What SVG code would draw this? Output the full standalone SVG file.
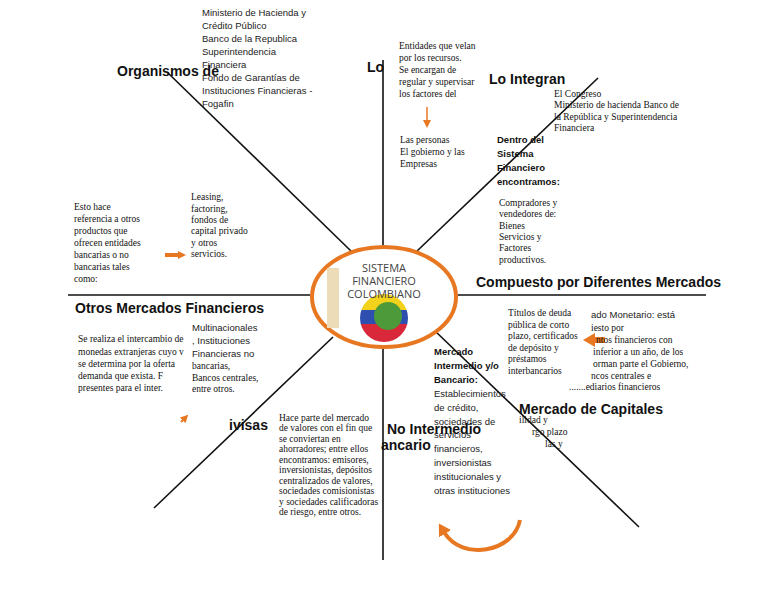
<svg xmlns="http://www.w3.org/2000/svg" width="768" height="594" viewBox="0 0 768 594">
<style>
.h{font-family:"Liberation Sans",Arial,sans-serif;font-weight:bold;font-size:14px;fill:#111}
.s{font-family:"Liberation Sans",Arial,sans-serif;font-size:9.5px;fill:#222}
.sb{font-family:"Liberation Sans",Arial,sans-serif;font-size:9.5px;font-weight:bold;fill:#111}
.r{font-family:"Liberation Serif","Times New Roman",serif;font-size:9.5px;fill:#111}
.ln{stroke:#111;stroke-width:1.6;fill:none}
</style>
<defs>
<clipPath id="g"><circle cx="384" cy="318" r="24"/></clipPath>
<marker id="ah" markerUnits="userSpaceOnUse" markerWidth="8" markerHeight="8" refX="2" refY="4" orient="auto"><path d="M0,0L8,4L0,8z" fill="#e87722"/></marker>
<marker id="ahb" markerUnits="userSpaceOnUse" markerWidth="12" markerHeight="14" refX="2" refY="7" orient="auto"><path d="M0,0L12,7L0,14z" fill="#e87722"/></marker>
</defs>
<rect width="768" height="594" fill="#fff"/>
<g id="connectors">
<line class="ln" x1="167" y1="72" x2="352" y2="252"/>
<line class="ln" x1="383" y1="60" x2="383" y2="247"/>
<line class="ln" x1="598" y1="78" x2="416" y2="252"/>
<line class="ln" x1="458" y1="295" x2="706" y2="295"/>
<line class="ln" x1="68" y1="295" x2="310" y2="295"/>
<line class="ln" x1="333" y1="337" x2="154" y2="508"/>
<line class="ln" x1="383" y1="348" x2="383" y2="560"/>
<line class="ln" x1="434" y1="330" x2="639" y2="527"/>
<line x1="427" y1="107" x2="427" y2="122" stroke="#e87722" stroke-width="1.5" marker-end="url(#ah)"/>
<path d="M165 255H180" stroke="#e87722" stroke-width="4" marker-end="url(#ah)"/>
<path d="M605 340H593" stroke="#e87722" stroke-width="6" marker-end="url(#ahb)"/>
<path d="M181 422L184 419" stroke="#e87722" stroke-width="2" marker-end="url(#ah)"/>
<path d="M520 520C514 552 462 562 444 532" stroke="#e87722" stroke-width="4" fill="none" marker-end="url(#ahb)"/>
</g>
<g id="center">
<ellipse cx="384" cy="297" rx="72" ry="50" fill="#fff" stroke="#e87722" stroke-width="4"/>
<rect x="327" y="268" width="12" height="60" fill="#ecdcb8"/>
<g clip-path="url(#g)">
<rect x="358" y="292" width="52" height="18" fill="#f2d21a"/>
<rect x="358" y="310" width="52" height="14" fill="#2e4fb0"/>
<rect x="358" y="324" width="52" height="20" fill="#d8283a"/>
<circle cx="388" cy="316" r="14" fill="#4d9a3a"/>
</g>
<text x="384" y="272" text-anchor="middle" style="font-family:'Open Sans',sans-serif;font-size:11px;fill:#444">SISTEMA</text>
<text x="384" y="285" text-anchor="middle" style="font-family:'Open Sans',sans-serif;font-size:11px;fill:#444">FINANCIERO</text>
<text x="384" y="298" text-anchor="middle" style="font-family:'Open Sans',sans-serif;font-size:11px;fill:#444">COLOMBIANO</text>
</g>
<g id="organismos">
<text class="h" x="117" y="76">Organismos de</text>
<text class="s" x="202" y="16">Ministerio de Hacienda y</text>
<text class="s" x="202" y="29">Crédito Público</text>
<text class="s" x="202" y="42">Banco de la Republica</text>
<text class="s" x="202" y="55">Superintendencia</text>
<text class="s" x="202" y="68">Financiera</text>
<text class="s" x="202" y="81">Fondo de Garantías de</text>
<text class="s" x="202" y="94">Instituciones Financieras -</text>
<text class="s" x="202" y="107">Fogafin</text>
</g>
<g id="lo">
<text class="h" x="367" y="72">Lo</text>
<text class="r" x="399" y="49">Entidades que velan</text>
<text class="r" x="399" y="61">por los recursos.</text>
<text class="r" x="399" y="73">Se encargan de</text>
<text class="r" x="399" y="85">regular y supervisar</text>
<text class="r" x="399" y="97">los factores del</text>
<text class="r" x="400" y="143">Las personas</text>
<text class="r" x="400" y="155">El gobierno y las</text>
<text class="r" x="400" y="167">Empresas</text>
</g>
<g id="integran">
<text class="h" x="489" y="84">Lo Integran</text>
<text class="r" x="554" y="97">El Congreso</text>
<text class="r" x="554" y="108">Ministerio de hacienda Banco de</text>
<text class="r" x="554" y="120">la República y Superintendencia</text>
<text class="r" x="554" y="131">Financiera</text>
<text class="sb" x="497" y="143">Dentro del</text>
<text class="sb" x="497" y="157">Sistema</text>
<text class="sb" x="497" y="171">Financiero</text>
<text class="sb" x="497" y="185">encontramos:</text>
<text class="r" x="499" y="206">Compradores y</text>
<text class="r" x="499" y="217">vendedores de:</text>
<text class="r" x="499" y="229">Bienes</text>
<text class="r" x="499" y="240">Servicios y</text>
<text class="r" x="499" y="251">Factores</text>
<text class="r" x="499" y="263">productivos.</text>
</g>
<g id="compuesto"><text class="h" x="476" y="287">Compuesto por Diferentes Mercados</text></g>
<g id="otros-izq">
<text class="r" x="74" y="210">Esto hace</text>
<text class="r" x="74" y="222">referencia a otros</text>
<text class="r" x="74" y="234">productos que</text>
<text class="r" x="74" y="246">ofrecen entidades</text>
<text class="r" x="74" y="258">bancarias o no</text>
<text class="r" x="74" y="270">bancarias tales</text>
<text class="r" x="74" y="282">como:</text>
<text class="r" x="191" y="200">Leasing,</text>
<text class="r" x="191" y="212">factoring,</text>
<text class="r" x="191" y="223">fondos de</text>
<text class="r" x="191" y="234">capital privado</text>
<text class="r" x="191" y="246">y otros</text>
<text class="r" x="191" y="257">servicios.</text>
</g>
<g id="otros">
<text class="h" x="75" y="313">Otros Mercados Financieros</text>
<text class="r" x="78" y="342">Se realiza el intercambio de</text>
<text class="r" x="78" y="355">monedas extranjeras cuyo v</text>
<text class="r" x="78" y="367">se determina por la oferta</text>
<text class="r" x="78" y="379">demanda que exista. F</text>
<text class="r" x="78" y="391">presentes para el inter.</text>
<text class="s" x="192" y="331">Multinacionales</text>
<text class="s" x="192" y="344">, Instituciones</text>
<text class="s" x="192" y="357">Financieras no</text>
<text class="r" x="192" y="369">bancarias,</text>
<text class="r" x="192" y="381">Bancos centrales,</text>
<text class="r" x="192" y="392">entre      otros.</text>
</g>
<g id="divisas">
<text class="h" x="229" y="430">ivisas</text>
<text class="r" x="279" y="421">Hace parte del mercado</text>
<text class="r" x="279" y="431">de valores con el fin que</text>
<text class="r" x="279" y="442">se      conviertan      en</text>
<text class="r" x="279" y="452">ahorradores; entre ellos</text>
<text class="r" x="279" y="463">encontramos: emisores,</text>
<text class="r" x="279" y="473">inversionistas, depósitos</text>
<text class="r" x="279" y="484">centralizados de valores,</text>
<text class="r" x="279" y="494">sociedades comisionistas</text>
<text class="r" x="279" y="505">y sociedades calificadoras</text>
<text class="r" x="279" y="515">de riesgo, entre otros.</text>
</g>
<g id="monetario">
<text class="r" x="508" y="316">Títulos de deuda</text>
<text class="r" x="508" y="328">pública de corto</text>
<text class="r" x="508" y="339">plazo, certificados</text>
<text class="r" x="508" y="351">de depósito y</text>
<text class="r" x="508" y="362">préstamos</text>
<text class="r" x="508" y="374">interbancarios</text>
<text class="s" x="591" y="318">ado Monetario: está</text>
<text class="r" x="591" y="331">iesto          por</text>
<text class="r" x="596" y="343">ntos financieros con</text>
<text class="r" x="593" y="355">inferior a un año, de los</text>
<text class="r" x="593" y="367">orman parte el Gobierno,</text>
<text class="r" x="591" y="379">ncos        centrales  e</text>
<text class="r" x="569" y="390">.......ediarios financieros</text>
</g>
<g id="capitales">
<text class="h" x="519" y="414">Mercado de Capitales</text>
<text class="r" x="519" y="423">ilidad y</text>
<text class="r" x="532" y="435">rgo plazo</text>
<text class="r" x="545" y="447">las y</text>
</g>
<g id="intermedio">
<text class="sb" x="434" y="355">Mercado</text>
<text class="sb" x="434" y="369">Intermedio y/o</text>
<text class="sb" x="434" y="383">Bancario:</text>
<text class="s" x="434" y="397">Establecimientos</text>
<text class="s" x="434" y="411">de crédito,</text>
<text class="s" x="434" y="425">sociedades de</text>
<text class="s" x="434" y="438">servicios</text>
<text class="s" x="434" y="452">financieros,</text>
<text class="s" x="434" y="466">inversionistas</text>
<text class="s" x="434" y="480">institucionales y</text>
<text class="s" x="434" y="494">otras instituciones</text>
</g>
<g id="nointermedio">
<text class="h" x="387" y="434">No Intermedio</text>
<text class="h" x="381" y="450">ancario</text>
</g>
</svg>
